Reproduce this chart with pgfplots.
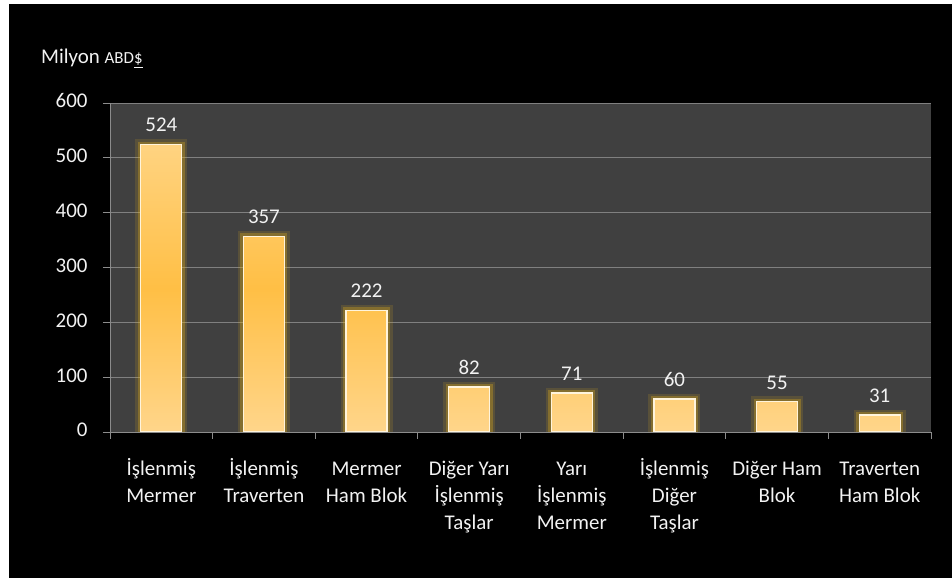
\documentclass[border=0pt]{standalone}
\usepackage{pgfplots}
\pgfplotsset{compat=1.18}
\usepackage{fontspec}
\setmainfont{Carlito}

\definecolor{plotbg}{HTML}{404040}
\definecolor{gridc}{HTML}{808080}
\definecolor{axisc}{HTML}{8C8C8C}
\definecolor{labelc}{HTML}{F2F2F2}
\definecolor{baredge}{HTML}{FFF4DC}
\definecolor{glowc}{HTML}{E8B418}
\definecolor{bartop}{HTML}{FFE2AC}
\definecolor{barmid}{HTML}{FFBF45}
\definecolor{barbot}{HTML}{FFE8C4}
\definecolor{barband}{HTML}{FFF8EA}

\pgfdeclareverticalshading{barshade}{100bp}{%
  color(0bp)=(barband);
  color(3bp)=(barband);
  color(4.5bp)=(barbot);
  color(50bp)=(barmid);
  color(93bp)=(bartop);
  color(96bp)=(barband);
  color(100bp)=(barband)}

\begin{document}
\begin{tikzpicture}
\fill[white] (0bp,0bp) rectangle (952bp,578bp);
\fill[black] (9bp,0bp) rectangle (952bp,574bp);
\node[anchor=base west, text=labelc, inner sep=0pt, font=\fontsize{21}{25}\selectfont]
  at (41bp,514bp) {Milyon {\fontsize{17}{20}\selectfont ABD\underline{\$}}};

\begin{axis}[
  at={(110bp,146bp)}, anchor=south west,
  scale only axis, width=821bp, height=329bp,
  axis background/.style={fill=plotbg},
  axis lines*=left,
  axis line style={draw=axisc, line width=0.8bp},
  tick align=outside,
  major tick length=7bp,
  tick style={draw=axisc, line width=0.8bp},
  ymin=0, ymax=600,
  ytick={0,100,...,600},
  ymajorgrids,
  grid style={draw=gridc, line width=0.7bp},
  xmin=-0.5, xmax=7.5,
  xtick={-0.5,0.5,...,7.5},
  x tick label as interval,
  xticklabels={{İşlenmiş\\Mermer},{İşlenmiş\\Traverten},{Mermer\\Ham Blok},
    {Diğer Yarı\\İşlenmiş\\Taşlar},{Yarı\\İşlenmiş\\Mermer},{İşlenmiş\\Diğer\\Taşlar},
    {Diğer Ham\\Blok},{Traverten\\Ham Blok}},
  typeset ticklabels with strut,
  xticklabel style={align=center, text=labelc, font=\fontsize{21}{27}\selectfont,
    yshift=-14bp},
  yticklabel style={text=labelc, font=\fontsize{21}{25}\selectfont, xshift=-12bp},
  /pgf/number format/assume math mode=true,
  clip mode=individual,
]
% glow
\addplot[ybar, bar width=41bp, bar shift=0pt, fill=none, draw=glowc,
  draw opacity=0.15, line width=11bp] coordinates {
  (0,524) (1,357) (2,222) (3,82) (4,71) (5,60) (6,55) (7,31)};
\addplot[ybar, bar width=41bp, bar shift=0pt, fill=none, draw=glowc,
  draw opacity=0.3, line width=6bp] coordinates {
  (0,524) (1,357) (2,222) (3,82) (4,71) (5,60) (6,55) (7,31)};
% bars
\addplot[ybar, bar width=41bp, bar shift=0pt, shading=barshade,
  draw=baredge, line width=1.2bp,
  nodes near coords,
  nodes near coords style={text=labelc, font=\fontsize{21}{25}\selectfont,
    anchor=south, inner sep=0pt, yshift=12bp}] coordinates {
  (0,524) (1,357) (2,222) (3,82) (4,71) (5,60) (6,55) (7,31)};
\end{axis}
\end{tikzpicture}
\end{document}
